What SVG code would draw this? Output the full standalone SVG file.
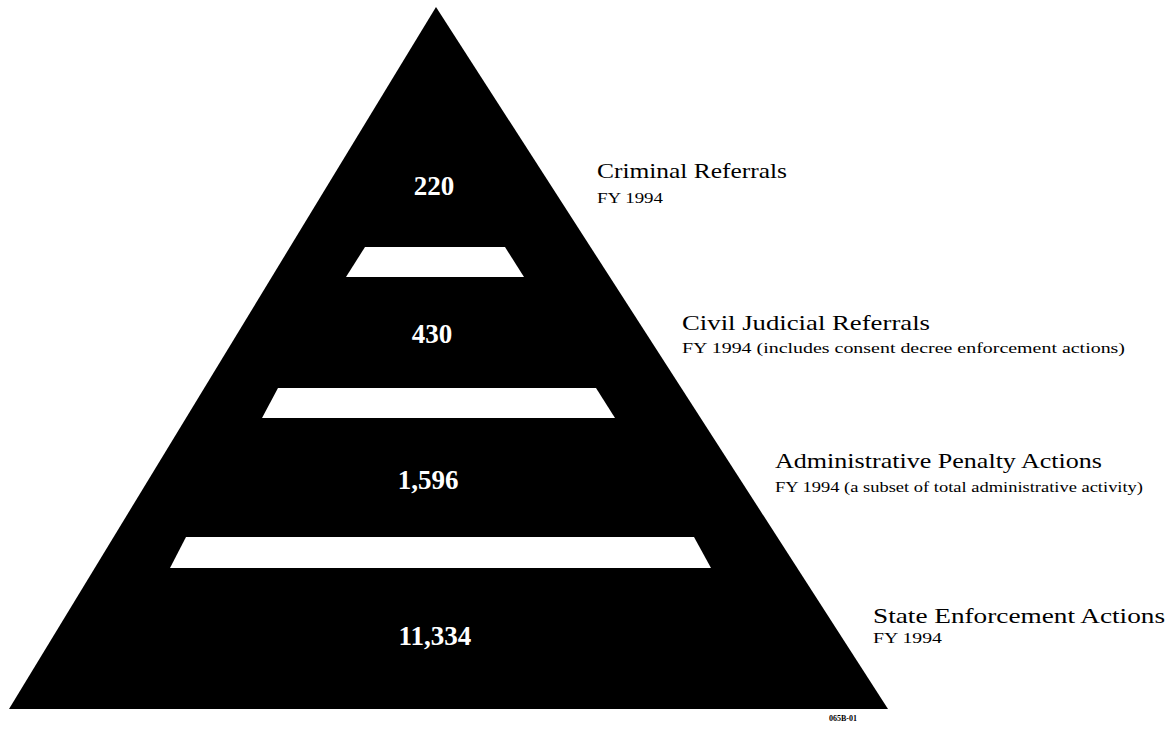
<svg xmlns="http://www.w3.org/2000/svg" width="1176" height="733" viewBox="0 0 1176 733">
<style>
.num{font-family:"Liberation Serif",serif;font-weight:bold;font-size:27px;fill:#fff;text-anchor:middle}
.head{font-family:"Liberation Serif",serif;font-size:22px;fill:#000}
.sub{font-family:"Liberation Serif",serif;font-size:15px;fill:#000}
.band{fill:#fff}
</style>
<rect width="1176" height="733" fill="#fff"/>
<g id="pyramid">
<polygon points="436,7 888,709 9,709" fill="#000"/>
<polygon class="band" points="365,247 505,247 524,277 346,277"/>
<polygon class="band" points="278,388 596,388 615,418 262,418"/>
<polygon class="band" points="186,537 694,537 711,568 170,568"/>
</g>
<g id="level1">
<text class="num" x="434" y="195">220</text>
<text class="head" x="597" y="178" textLength="190" lengthAdjust="spacingAndGlyphs">Criminal Referrals</text>
<text class="sub" x="597" y="203" textLength="66" lengthAdjust="spacingAndGlyphs">FY 1994</text>
</g>
<g id="level2">
<text class="num" x="432" y="343">430</text>
<text class="head" x="682" y="330" textLength="248" lengthAdjust="spacingAndGlyphs">Civil Judicial Referrals</text>
<text class="sub" x="682" y="353" textLength="443" lengthAdjust="spacingAndGlyphs">FY 1994 (includes consent decree enforcement actions)</text>
</g>
<g id="level3">
<text class="num" x="428" y="489">1,596</text>
<text class="head" x="775" y="468" textLength="327" lengthAdjust="spacingAndGlyphs">Administrative Penalty Actions</text>
<text class="sub" x="775" y="492" textLength="368" lengthAdjust="spacingAndGlyphs">FY 1994 (a subset of total administrative activity)</text>
</g>
<g id="level4">
<text class="num" x="435" y="645">11,334</text>
<text class="head" x="873" y="623" textLength="292" lengthAdjust="spacingAndGlyphs">State Enforcement Actions</text>
<text class="sub" x="873" y="643" textLength="69" lengthAdjust="spacingAndGlyphs">FY 1994</text>
</g>
<g id="code">
<text x="829" y="721" font-family="Liberation Serif,serif" font-size="8" font-weight="bold" fill="#000">065B-01</text>
</g>
<g id="connectors"/>
</svg>
